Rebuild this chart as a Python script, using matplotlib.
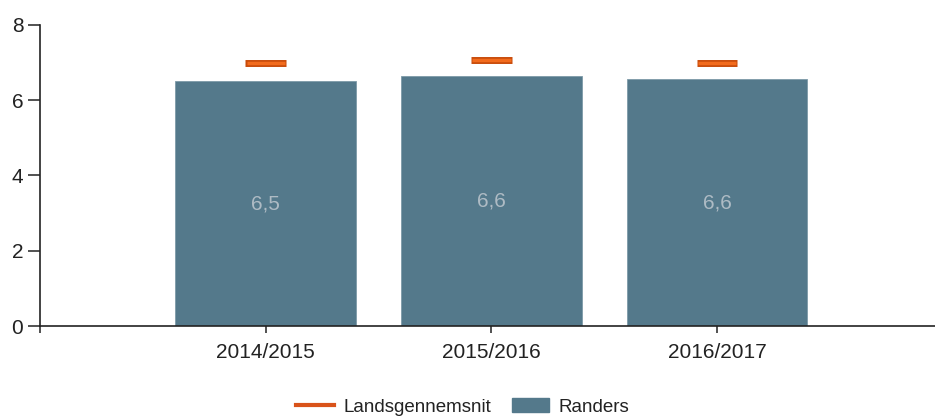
import matplotlib
matplotlib.use("Agg")
import matplotlib.pyplot as plt
from matplotlib.lines import Line2D
from matplotlib.patches import Patch

plt.rcParams['font.family'] = ['Liberation Sans', 'DejaVu Sans']

years = ["2014/2015", "2015/2016", "2016/2017"]
randers = [6.50, 6.64, 6.56]
randers_labels = ["6,5", "6,6", "6,6"]
landsgns = [7.0, 7.07, 7.0]

bar_color = "#54798b"
avg_fill = "#f26b1d"
avg_edge = "#c84b0a"

fig = plt.figure(figsize=(9.35, 4.19), dpi=100)
ax = fig.add_axes([40 / 935, 93 / 419, 1 - 40 / 935, 301 / 419])

x = list(range(len(years)))
ax.bar(x, randers, width=0.8, color=bar_color, edgecolor="#7d9aa8", linewidth=0.6, zorder=2)

for xi, v, lab in zip(x, randers, randers_labels):
    ax.text(xi, v / 2, lab, ha="center", va="center", fontsize=15, color="#aebbc4")

# landsgennemsnit markers as short bars
for xi, v in zip(x, landsgns):
    ax.plot([xi - 0.09, xi + 0.09], [v, v], color=avg_edge, linewidth=5,
            solid_capstyle="butt", zorder=3)
    ax.plot([xi - 0.085, xi + 0.085], [v, v], color=avg_fill, linewidth=2.5,
            solid_capstyle="butt", zorder=4)

ax.set_xlim(-1, 2.965)
ax.set_ylim(0, 8)
ax.set_yticks([0, 2, 4, 6, 8])
ax.set_xticks([-1] + x)
ax.set_xticklabels([""] + years)

for s in ["top", "right"]:
    ax.spines[s].set_visible(False)
for s in ["left", "bottom"]:
    ax.spines[s].set_color("#222222")
    ax.spines[s].set_linewidth(1.2)

ax.tick_params(axis="y", length=9, width=1.2, color="#333333", labelsize=15,
               labelcolor="#222222", pad=3)
ax.tick_params(axis="x", length=5, width=1.2, color="#333333", labelsize=15,
               labelcolor="#222222", pad=7)

handles = [
    Line2D([0], [0], color="#d9531a", linewidth=3),
    Patch(facecolor=bar_color, edgecolor=bar_color),
]
fig.legend(handles, ["Landsgennemsnit", "Randers"], loc="center",
           bbox_to_anchor=(0.495, 12 / 419), ncol=2, frameon=False,
           fontsize=13.5, handlelength=2.0, columnspacing=1.1, handletextpad=0.5,
           labelcolor="#222222")

fig.savefig("out.png", dpi=100)
